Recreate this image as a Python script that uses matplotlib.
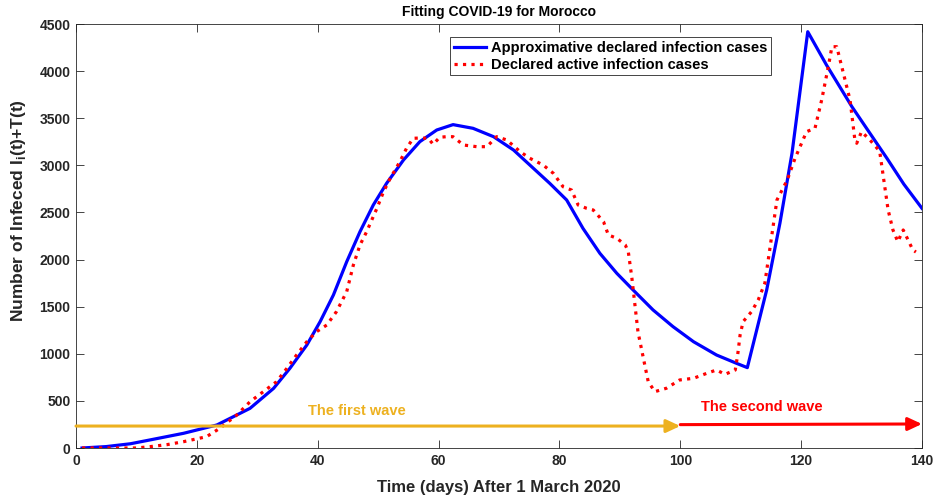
"""
Fitting COVID-19 for Morocco - model vs declared active cases
"""

import matplotlib
matplotlib.use("Agg")
import matplotlib.pyplot as plt

plt.rcParams['font.family'] = ['Liberation Sans', 'DejaVu Sans']
plt.rcParams['font.weight'] = 'bold'
plt.rcParams['mathtext.fontset'] = 'custom'
plt.rcParams['mathtext.rm'] = 'Liberation Sans:bold'

# ============================================
# DATA
# ============================================
# approximative declared infection cases (model curve)
t_model = [1, 5, 9, 12.2, 17.8, 23.3, 28.8, 32.7, 35.4, 38.2, 40.4, 42.6, 44.8,
           47, 49.2, 51.4, 54.2, 56.9, 59.7, 62.4, 65.7, 69.1, 72.4, 75.7, 78.4,
           81.2, 83.9, 86.7, 89.5, 92.2, 95.5, 98.8, 102.2, 106, 109.3, 111.1,
           114.3, 116.5, 118.5, 121.1, 124.2, 128.4, 131, 134.2, 137, 140]
v_model = [0, 15, 45, 85, 156, 244, 421, 633, 846, 1093, 1341, 1624, 1977,
           2296, 2579, 2809, 3057, 3251, 3375, 3432, 3393, 3304, 3163, 2968, 2809,
           2632, 2331, 2066, 1854, 1677, 1465, 1288, 1128, 987, 899, 853,
           1677, 2388, 3131, 4418, 4065, 3623, 3377, 3075, 2800, 2544]

# declared active infection cases
t_data = [1, 5, 10, 12.2, 15, 17.8, 21.6, 23.8, 26.6, 28.8, 31, 33.2, 34.9, 36.5,
          38.2, 39.8, 41.5, 43.1, 44.8, 45.9, 47, 48.1, 49.8, 50.9, 52, 53.6, 54.7,
          55.8, 57, 58.3, 59.1, 60.2, 61.3, 62.4, 64.1, 66.3, 68, 69.6, 71.3, 73.5,
          75.1, 77.3, 79, 80.6, 82, 83.1, 84.5, 85.6, 87.3, 88.1, 89.5, 90.9, 91.4,
          92, 92.5, 93, 93.9, 94.7, 95.8, 97.7, 99.9, 102.2, 104.4, 106, 107.4,
          109.1, 109.5, 109.9, 110.4, 111.8, 112.9, 114, 115.2, 116, 117.7, 119,
          120.9, 122.3, 123.4, 124.5, 125.1, 125.9, 127, 128.1, 128.9, 129.2, 130,
          131.4, 133, 134.4, 135.2, 136, 136.9, 137.7, 138.5, 139]
v_data = [0, 0, 0, 14, 35, 67, 120, 209, 350, 491, 598, 704, 846, 987,
          1128, 1234, 1305, 1447, 1659, 1942, 2155, 2296, 2544, 2721, 2862, 3039, 3181,
          3287, 3290, 3287, 3223, 3298, 3304, 3304, 3216, 3198, 3198, 3304, 3269, 3145,
          3075, 3004, 2915, 2773, 2738, 2579, 2544, 2526, 2402, 2261, 2226, 2155, 2083,
          1801, 1518, 1234, 952, 704, 598, 634, 722, 740, 793, 828, 782,
          828, 987, 1199, 1341, 1447, 1571, 1750, 2279, 2632, 2844, 3075,
          3357, 3394, 3693, 4047, 4259, 4259, 3977, 3693, 3269, 3234, 3357,
          3269, 3150, 2526, 2314, 2190, 2314, 2208, 2101, 2080]

# wave arrows: (start day, start value, end day, end value)
first_wave = (0, 233, 100, 233)
second_wave = (100, 248, 140, 255)

ORANGE = '#EDB120'
AXCOL = '#262626'

fig = plt.figure(figsize=(9.36, 5.0), dpi=100)
ax = fig.add_axes([0.0812, 0.104, 0.9038, 0.848])

ax.plot(t_model, v_model, '-', color='#0000FF', lw=2.3,
        label='Approximative declared infection cases')
ax.plot(t_data, v_data, ':', color='#FF0000', lw=2.3,
        label='Declared active infection cases')

# arrows for the two waves
for (x0, y0, x1, y1), col in [(first_wave, ORANGE), (second_wave, '#FF0000')]:
    ax.annotate('', xy=(x1, y1), xytext=(x0, y0), annotation_clip=False,
                arrowprops=dict(arrowstyle='-|>,head_length=0.6,head_width=0.28',
                                color=col, lw=2.2, mutation_scale=14,
                                shrinkA=0, shrinkB=0))
ax.text(46.5, 396, 'The first wave', color=ORANGE, fontsize=10.5,
        fontweight='bold', ha='center', va='center')
ax.text(113.5, 439, 'The second wave', color='#FF0000', fontsize=10.5,
        fontweight='bold', ha='center', va='center')

ax.set_xlim(0, 140)
ax.set_ylim(0, 4500)
ax.set_xticks(range(0, 141, 20))
ax.set_yticks(range(0, 4501, 500))
ax.tick_params(direction='in', length=6, width=0.6, colors=AXCOL,
               top=True, right=True, labelsize=10, pad=4)
for lab in ax.get_xticklabels() + ax.get_yticklabels():
    lab.set_fontweight('bold')
for sp in ax.spines.values():
    sp.set_color(AXCOL)
    sp.set_linewidth(0.6)

ax.set_title('Fitting COVID-19 for Morocco', fontsize=10, fontweight='bold', pad=6)
ax.set_xlabel('Time (days) After 1 March 2020', fontsize=12, fontweight='bold',
              labelpad=9, color=AXCOL)
ax.set_ylabel(r'Number of Infeced I$_\mathrm{i}$(t)+T(t)', fontsize=12.5,
              fontweight='bold', color=AXCOL)
ax.yaxis.set_label_coords(-0.057, 0.56)

leg = ax.legend(loc='upper left', bbox_to_anchor=(0.434, 0.986),
                handlelength=2.2, handletextpad=0.35, borderpad=0.25,
                labelspacing=0.2, fancybox=False, framealpha=1,
                prop={'weight': 'bold', 'size': 10.5})
leg.get_frame().set_edgecolor(AXCOL)
leg.get_frame().set_linewidth(0.6)

fig.savefig('out.png', dpi=100)
